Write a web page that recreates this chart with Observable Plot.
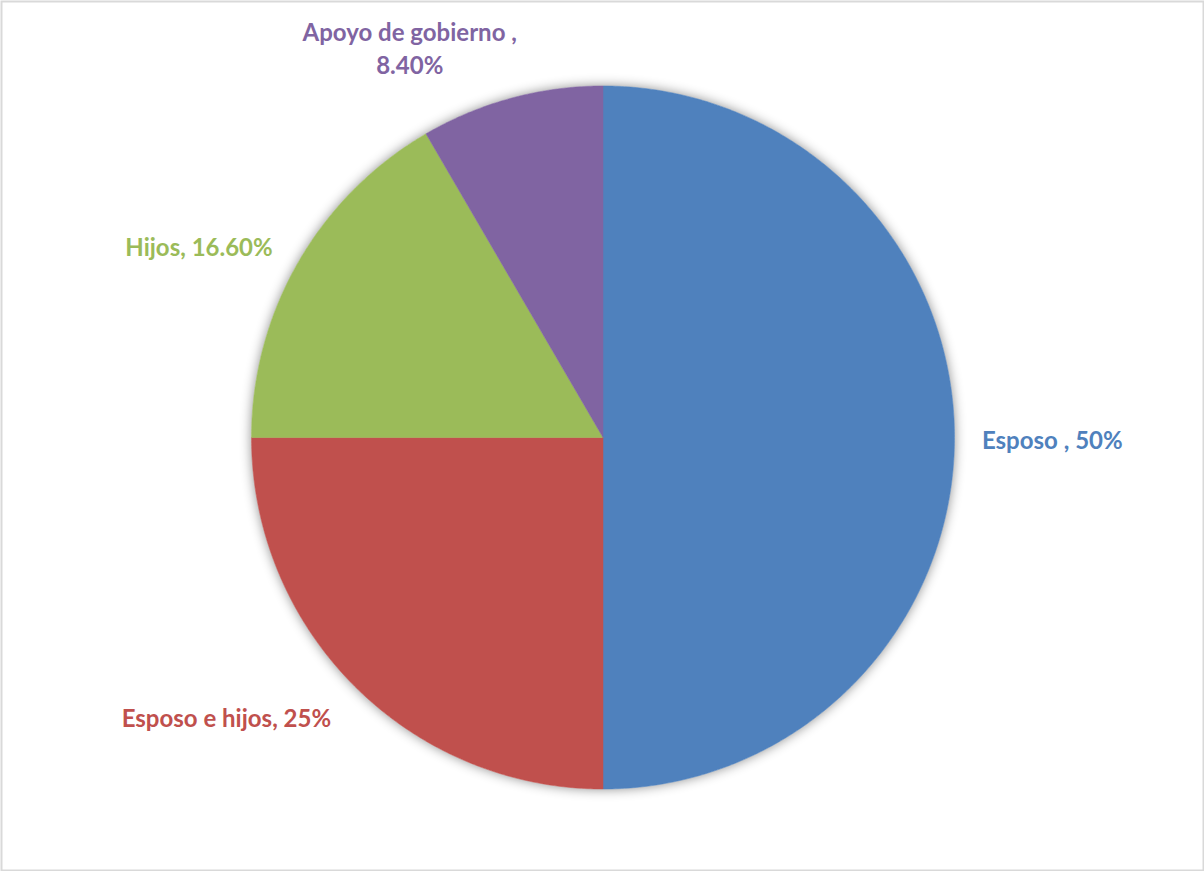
<!DOCTYPE html>
<html><head><meta charset="utf-8">
<script src="https://cdn.jsdelivr.net/npm/d3@7"></script>
<script src="https://cdn.jsdelivr.net/npm/@observablehq/plot@0.6"></script>
<style>html,body{margin:0;padding:0;background:#fff;overflow:hidden}</style>
</head><body><div id="chart"></div>
<script>
// ---- data ----
const categories = ["Esposo ", "Esposo e hijos", "Hijos", "Apoyo de gobierno "];
const values = [50, 25, 16.6, 8.4];
const valueLabels = ["50%", "25%", "16.60%", "8.40%"];
const colors = ["#4F81BD", "#C0504D", "#9BBB59", "#8064A2"];

// ---- layout (label placement along slice mid-angle) ----
const labelLayout = [
  {r: 1.078, anchor: "start", lineAnchor: "middle", dx: 0, dy: 1},
  {r: 1.11, anchor: "end", lineAnchor: "middle", dx: 4, dy: 3},
  {r: 1.087, anchor: "end", lineAnchor: "middle", dx: 1, dy: -2},
  {r: 1.05, anchor: "middle", lineAnchor: "bottom", dx: -97, dy: -7}
];

const W = 1204, H = 871, CX = 602.5, CY = 437, R = 351.5;
const total = d3.sum(values);

let acc = 0;
const slices = values.map((v, i) => {
  const t0 = acc / total; acc += v; const t1 = acc / total;
  const n = Math.max(2, Math.ceil((t1 - t0) * 720));
  const pts = [{x: 0, y: 0}];
  for (let k = 0; k <= n; k++) {
    const a = 2 * Math.PI * (t0 + (t1 - t0) * k / n);
    pts.push({x: Math.sin(a), y: Math.cos(a)});
  }
  pts.push({x: 0, y: 0});
  const mid = 2 * Math.PI * (t0 + t1) / 2;
  return {i, pts, mid};
});

const circle = d3.range(0, 721).map(k => {
  const a = 2 * Math.PI * k / 720;
  return {x: Math.sin(a), y: Math.cos(a)};
});

const labelMarks = slices.map(s => {
  const L = labelLayout[s.i];
  const sep = categories[s.i].length > 15 ? ",\n" : ", ";
  const d = [{x: Math.sin(s.mid) * L.r, y: Math.cos(s.mid) * L.r,
              text: categories[s.i] + sep + valueLabels[s.i]}];
  return Plot.text(d, {
    x: "x", y: "y", text: "text", fill: colors[s.i],
    textAnchor: L.anchor, lineAnchor: L.lineAnchor, dx: L.dx, dy: L.dy,
    fontSize: 24, fontWeight: "bold", fontFamily: "Lato, 'Open Sans', sans-serif",
    lineHeight: 1.4
  });
});

const chart = Plot.plot({
  width: W, height: H, margin: 0,
  x: {domain: [-CX / R, (W - CX) / R], axis: null},
  y: {domain: [-(H - CY) / R, CY / R], axis: null},
  style: {background: "#fff"},
  marks: [
    Plot.line(circle, {x: "x", y: "y", fill: "#fff", stroke: "none", className: "pie-shadow"}),
    ...slices.map(s => Plot.line(s.pts, {x: "x", y: "y", fill: colors[s.i], stroke: colors[s.i], strokeWidth: 0.5})),
    ...labelMarks,
    Plot.frame({stroke: "#d9d9d9", strokeWidth: 2, inset: 1})
  ]
});
chart.querySelectorAll(".pie-shadow").forEach(g => g.style.filter = "drop-shadow(0 0 6px rgba(0,0,0,0.45))");
document.getElementById("chart").appendChild(chart);
</script>
</body></html>
